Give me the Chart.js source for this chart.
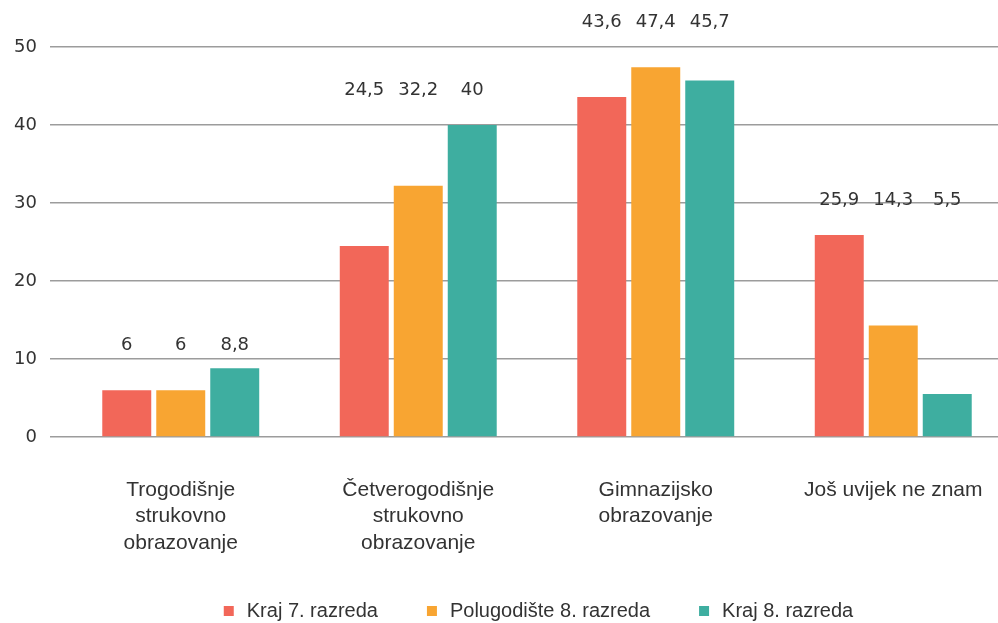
<!DOCTYPE html>
<html>
<head>
    <meta charset="utf-8">
    <title>Upisne namjere</title>
    <script src="https://cdn.jsdelivr.net/npm/chart.js@4.4.1/dist/chart.umd.min.js"></script>
    <style>
        html, body { margin: 0; padding: 0; overflow: hidden; background: #fff; }
        #myChart { display: block; }
    </style>
</head>
<body>
    <canvas id="myChart" width="1015" height="640"></canvas>

    <script>
        var categories = [
            ["Trogodišnje", "strukovno", "obrazovanje"],
            ["Četverogodišnje", "strukovno", "obrazovanje"],
            ["Gimnazijsko", "obrazovanje"],
            ["Još uvijek ne znam"]
        ];
        var seriesNames = ["Kraj 7. razreda", "Polugodište 8. razreda", "Kraj 8. razreda"];
        var kraj7 = [6, 24.5, 43.6, 25.9];
        var polugodiste8 = [6, 32.2, 47.4, 14.3];
        var kraj8 = [8.8, 40, 45.7, 5.5];
        var colors = ["#F26759", "#F8A532", "#3EAEA0"];
        var yTicks = [0, 10, 20, 30, 40, 50];

        // height (in axis units) where each group's value labels sit
        var labelLevels = [11.8, 44.4, 53.2, 30.4];

        var valueLabels = {
            id: "valueLabels",
            afterDatasetsDraw: function (chart) {
                var ctx = chart.ctx;
                var yScale = chart.scales.y;
                ctx.save();
                ctx.font = "18px 'DejaVu Sans'";
                ctx.fillStyle = "#333333";
                ctx.textAlign = "center";
                ctx.textBaseline = "middle";
                chart.data.datasets.forEach(function (ds, di) {
                    var meta = chart.getDatasetMeta(di);
                    meta.data.forEach(function (bar, i) {
                        var y = yScale.getPixelForValue(labelLevels[i]);
                        ctx.fillText(String(ds.data[i]).replace(".", ","), bar.x, y);
                    });
                });
                ctx.restore();
            }
        };

        var seriesData = [kraj7, polugodiste8, kraj8];
        var datasets = seriesNames.map(function (name, i) {
            return {
                label: name,
                data: seriesData[i],
                backgroundColor: colors[i],
                borderWidth: 0,
                pointStyle: "rect",
                categoryPercentage: 0.682,
                barPercentage: 0.907
            };
        });

        new Chart(document.getElementById("myChart"), {
            type: "bar",
            data: { labels: categories, datasets: datasets },
            plugins: [valueLabels],
            options: {
                responsive: false,
                animation: false,
                devicePixelRatio: 1,
                layout: { padding: { top: 47, right: 3, bottom: 9, left: 0 } },
                plugins: {
                    tooltip: { enabled: false },
                    legend: {
                        position: "bottom",
                        fullSize: false,
                        labels: {
                            usePointStyle: true,
                            boxWidth: 16,
                            boxHeight: 10,
                            padding: 46,
                            color: "#333333",
                            font: { family: "'Liberation Sans'", size: 20 }
                        }
                    }
                },
                scales: {
                    x: {
                        grid: { display: false },
                        border: { display: false },
                        ticks: {
                            color: "#333333",
                            padding: 32,
                            maxRotation: 0,
                            autoSkip: false,
                            font: { family: "'Liberation Sans'", size: 21, lineHeight: 1.26 }
                        },
                        afterFit: function (scale) {
                            scale.height = 118;
                            scale.paddingLeft = 0;
                            scale.paddingRight = 0;
                        }
                    },
                    y: {
                        min: 0,
                        max: 50,
                        afterBuildTicks: function (scale) {
                            scale.ticks = yTicks.map(function (v) { return { value: v }; });
                        },
                        grid: {
                            color: "#9c9c9c",
                            lineWidth: 1.5,
                            drawTicks: true,
                            tickLength: 12
                        },
                        border: { display: false },
                        ticks: {
                            color: "#333333",
                            padding: 13,
                            font: { family: "'DejaVu Sans'", size: 18 }
                        },
                        afterFit: function (scale) { scale.width = 62; }
                    }
                }
            }
        });
    </script>
</body>
</html>
